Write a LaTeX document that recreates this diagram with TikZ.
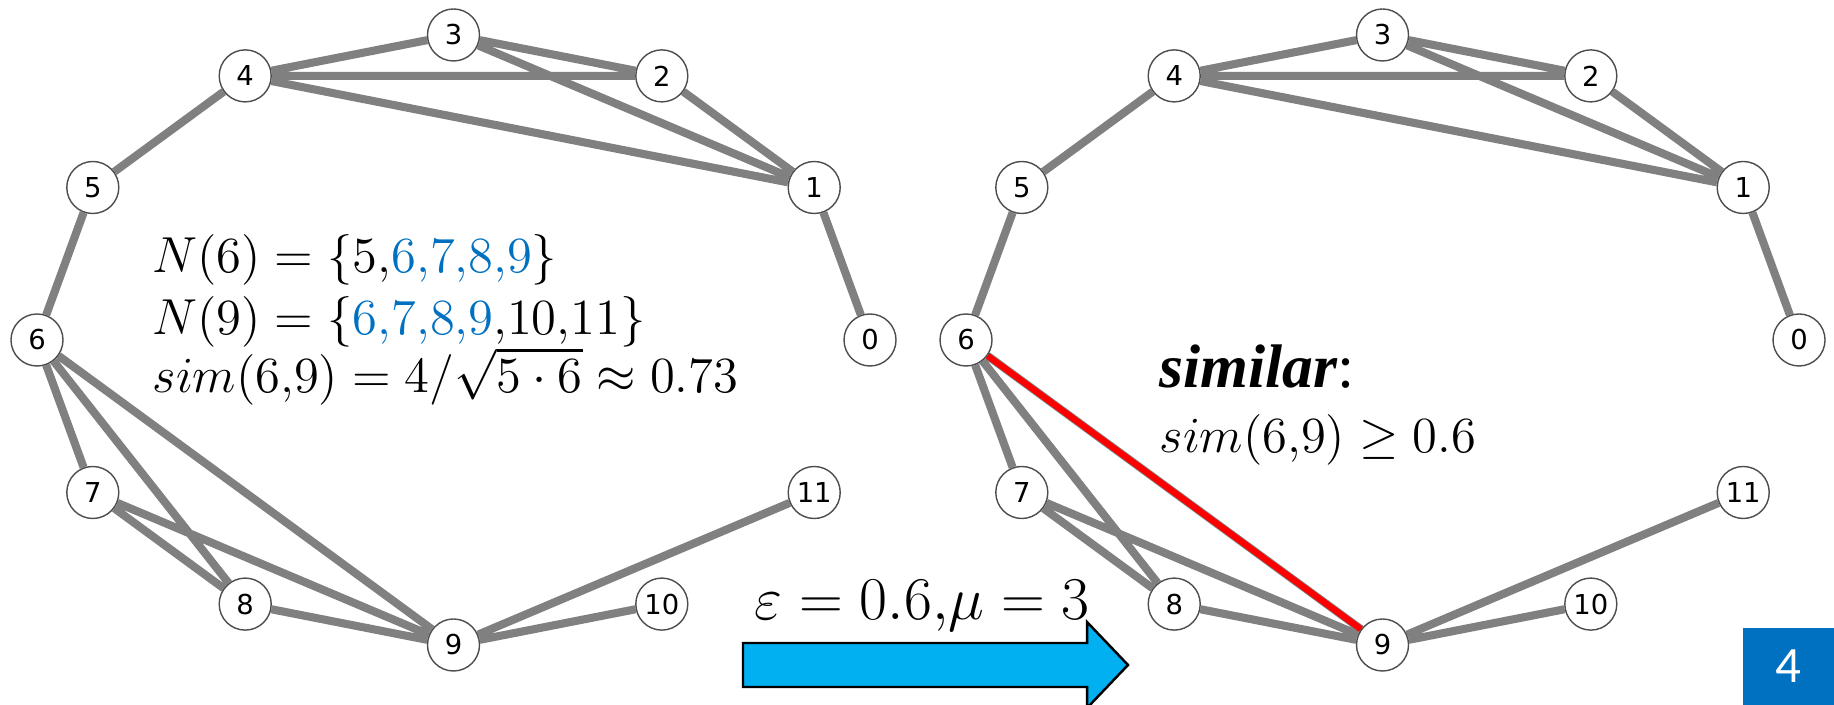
\documentclass[tikz,border=0pt]{standalone}
\usepackage{fontspec}
\usepackage{xcolor}
\usepackage{tikz}
\usetikzlibrary{backgrounds}
\newfontfamily\vertexfont{DejaVu Sans}
\newfontfamily\slidefont{Carlito}
\newfontfamily\timesfont{Liberation Serif}
\definecolor{EdgeGray}{HTML}{808080}
\definecolor{RingGray}{HTML}{4D4D4D}
\definecolor{SetBlue}{HTML}{0070C0}
\definecolor{ArrowBlue}{HTML}{00B0F0}
\definecolor{SimRed}{HTML}{FF0000}
\tikzset{
  vertex/.style={circle,draw=RingGray,line width=0.4pt,fill=white,inner sep=0pt,
    minimum size=14.8pt,font=\vertexfont\fontsize{7.8}{9}\selectfont},
  link/.style={draw=EdgeGray,line width=2.3pt},
  simlink/.style={draw=SimRed,line width=1.8pt},
  formula/.style={anchor=base west,inner sep=0pt,font=\fontsize{14.2}{16}\selectfont},
  bigformula/.style={formula,font=\fontsize{16.8}{20}\selectfont},
  pagebox/.style={fill=SetBlue,text=white,minimum width=0.91cm,minimum height=0.77cm,
    inner sep=0pt,font=\slidefont\fontsize{14.5}{16}\selectfont},
  bigarrow/.style={fill=ArrowBlue,draw=black,line width=0.7pt,line join=miter}
}

\begin{document}
\begin{tikzpicture}[x=1cm,y=1cm]
  \useasboundingbox (0,0) rectangle (18.34,7.05);

  % left graph
  \node[vertex] (l0) at (8.700,3.650) {0};
  \node[vertex] (l1) at (8.142,5.175) {1};
  \node[vertex] (l2) at (6.618,6.291) {2};
  \node[vertex] (l3) at (4.535,6.700) {3};
  \node[vertex] (l4) at (2.452,6.291) {4};
  \node[vertex] (l5) at (0.928,5.175) {5};
  \node[vertex] (l6) at (0.370,3.650) {6};
  \node[vertex] (l7) at (0.928,2.125) {7};
  \node[vertex] (l8) at (2.452,1.009) {8};
  \node[vertex] (l9) at (4.535,0.600) {9};
  \node[vertex] (l10) at (6.618,1.009) {10};
  \node[vertex] (l11) at (8.142,2.125) {11};

  % right graph
  \node[vertex] (r0) at (17.990,3.650) {0};
  \node[vertex] (r1) at (17.432,5.175) {1};
  \node[vertex] (r2) at (15.908,6.291) {2};
  \node[vertex] (r3) at (13.825,6.700) {3};
  \node[vertex] (r4) at (11.742,6.291) {4};
  \node[vertex] (r5) at (10.218,5.175) {5};
  \node[vertex] (r6) at (9.660,3.650) {6};
  \node[vertex] (r7) at (10.218,2.125) {7};
  \node[vertex] (r8) at (11.742,1.009) {8};
  \node[vertex] (r9) at (13.825,0.600) {9};
  \node[vertex] (r10) at (15.908,1.009) {10};
  \node[vertex] (r11) at (17.432,2.125) {11};

  \begin{scope}[on background layer]
    \draw[link] (l4) -- (l3) (l3) -- (l2) (l4) -- (l2) (l3) -- (l1) (l4) -- (l1) (l2) -- (l1)
      (l4) -- (l5) (l5) -- (l6) (l1) -- (l0) (l6) -- (l7) (l6) -- (l8) (l6) -- (l9)
      (l7) -- (l8) (l7) -- (l9) (l8) -- (l9) (l9) -- (l11) (l9) -- (l10);
    \draw[link] (r4) -- (r3) (r3) -- (r2) (r4) -- (r2) (r3) -- (r1) (r4) -- (r1) (r2) -- (r1)
      (r4) -- (r5) (r5) -- (r6) (r1) -- (r0) (r6) -- (r7) (r6) -- (r8) (r6) -- (r9)
      (r7) -- (r8) (r7) -- (r9) (r8) -- (r9) (r9) -- (r11) (r9) -- (r10);
    \draw[simlink] (r6) -- (r9);
  \end{scope}

  \node[formula] (nsix) at (1.52,4.32) {$N(6)=\{5{,}{\color{SetBlue}6{,}7{,}8{,}9}\}$};
  \node[formula] (nnine) at (1.52,3.70) {$N(9)=\{{\color{SetBlue}6{,}7{,}8{,}9}{,}10{,}11\}$};
  \node[formula] (simleft) at (1.52,3.12) {$sim(6{,}9)=4/\sqrt{5\cdot6}\approx0.73$};

  \node[formula] (simtitle) at (11.59,3.17)
    {\timesfont\fontsize{17.5}{20}\selectfont\textbf{\textit{similar}}:};
  \node[formula] (simright) at (11.59,2.52) {$sim(6{,}9)\geq0.6$};

  \node[bigformula] (params) at (7.54,0.85) {$\varepsilon=0.6{,}\mu=3$};
  \draw[bigarrow] (7.43,0.18) -- (7.43,0.62) -- (10.87,0.62) -- (10.87,0.83)
    -- (11.28,0.40) -- (10.87,-0.03) -- (10.87,0.18) -- cycle;

  \node[pagebox] (slideno) at (17.885,0.385) {4};
\end{tikzpicture}
\end{document}
